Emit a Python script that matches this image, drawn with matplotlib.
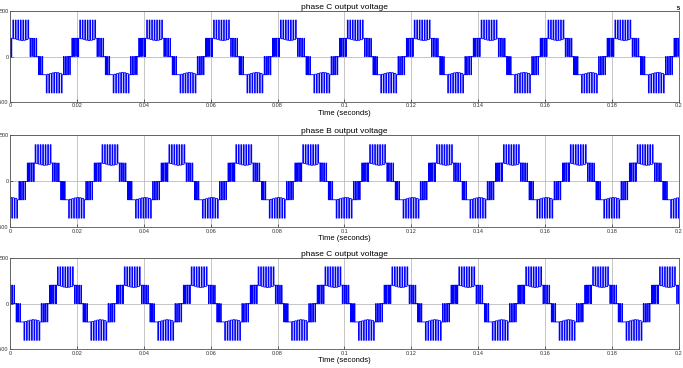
import numpy as np
import matplotlib
matplotlib.use("Agg")
import matplotlib.pyplot as plt

plt.rcParams['font.family'] = ['Liberation Sans', 'DejaVu Sans']

# one 20 ms cycle of the switched phase voltage: switching instants (ms) and level after each (V)
cycle_ms = 20.0
edge_ms = [0.00, 0.20, 0.30, 0.45, 0.55,
           0.85, 1.10, 1.60, 1.85, 2.35, 2.60, 3.10, 3.35, 3.85, 4.10, 4.60, 4.85, 5.35, 5.60,
           6.00, 6.15, 6.50, 6.70, 7.00, 7.30, 7.50, 7.90, 8.00,
           8.50, 8.65, 8.90, 9.15, 9.35, 9.70, 9.80,
           10.85, 11.10, 11.60, 11.85, 12.35, 12.60, 13.10, 13.35, 13.85, 14.10, 14.60, 14.85, 15.35, 15.60,
           16.00, 16.15, 16.50, 16.70, 17.00, 17.30, 17.50, 17.90, 18.00,
           18.50, 18.65, 18.90, 19.15, 19.35, 19.70, 19.80]
edge_v = [200, 0, 200, 0, 200,
          400, 195, 400, 188, 400, 180, 400, 175, 400, 178, 400, 185, 400, 200,
          0, 200, 0, 200, 0, 200, 0, 200, 0,
          -200, 0, -200, 0, -200, 0, -200,
          -400, -195, -400, -188, -400, -180, -400, -175, -400, -178, -400, -185, -400, -200,
          0, -200, 0, -200, 0, -200, 0, -200, 0,
          200, 0, 200, 0, 200, 0, 200]

titles = ['phase C output voltage', 'phase B output voltage', 'phase C output voltage']
delay_ms = [0.0, 6.67, 13.33]
n_cycles = 10

xticks = [0, 0.02, 0.04, 0.06, 0.08, 0.1, 0.12, 0.14, 0.16, 0.18, 0.2]
xticklabels = ['0', '0.02', '0.04', '0.06', '0.08', '0.1', '0.12', '0.14', '0.16', '0.18', '0.2']
yticks = [-500, 0, 500]

fig = plt.figure(figsize=(6.83, 3.68), dpi=100)
boxes = [[0.0146, 0.7228, 0.9795, 0.2473],
         [0.0146, 0.3823, 0.9795, 0.2495],
         [0.0146, 0.0503, 0.9795, 0.2495]]

for box, title, d in zip(boxes, titles, delay_ms):
    ax = fig.add_axes(box)
    t = []
    v = []
    for k in range(-1, n_cycles + 1):
        t.extend(np.array(edge_ms) + k * cycle_ms + d)
        v.extend(edge_v)
    t = np.array(t) / 1000.0
    ax.step(t, v, where='post', color='#0000ff', lw=0.6)

    ax.set_xlim(0, 0.2)
    ax.set_ylim(-500, 500)
    ax.set_xticks(xticks)
    ax.set_xticklabels(xticklabels)
    ax.set_yticks(yticks)
    ax.tick_params(direction='in', length=2, width=0.5, labelsize=4, pad=1, colors='#333333')
    ax.grid(True, color='#bbbbbb', lw=0.6)
    ax.set_axisbelow(True)
    for s in ax.spines.values():
        s.set_color('#555555')
        s.set_linewidth(0.6)
    ax.set_title(title, fontsize=6, pad=1.5)
    ax.set_xlabel('Time (seconds)', fontsize=5.5, labelpad=1)

fig.text(0.996, 0.985, '5', fontsize=4, ha='right', va='top', fontweight='bold')

fig.savefig('out.png', dpi=100)
